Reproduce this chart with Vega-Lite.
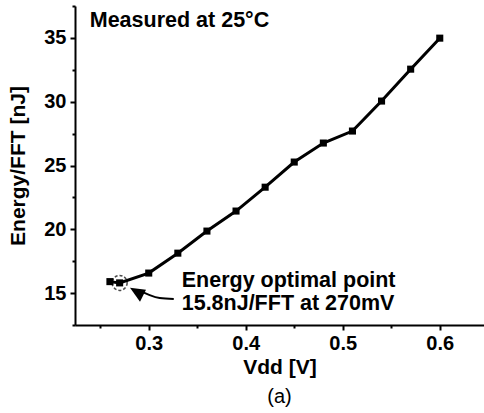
{
  "$schema": "https://vega.github.io/schema/vega-lite/v6.json",
  "autosize": {"type": "none"},
  "width": 409,
  "height": 319,
  "padding": {"left": 75, "top": 6, "right": 0, "bottom": 88},
  "background": "white",
  "config": {
    "view": {"stroke": null},
    "font": "Liberation Sans",
    "axis": {
      "grid": false,
      "domainColor": "black",
      "domainWidth": 2,
      "tickColor": "black",
      "tickWidth": 2,
      "labelColor": "black",
      "labelFont": "Liberation Sans",
      "labelFontWeight": "bold",
      "labelFontSize": 20,
      "titleColor": "black",
      "titleFont": "Liberation Sans",
      "titleFontWeight": "bold",
      "titleFontSize": 21,
      "labelFlush": false,
      "labelOverlap": false
    }
  },
  "title": {
    "text": "(a)",
    "orient": "bottom",
    "anchor": "middle",
    "font": "Liberation Sans",
    "fontWeight": "normal",
    "fontSize": 20,
    "color": "black",
    "offset": 10
  },
  "resolve": {"axis": {"y": "independent"}},
  "layer": [
    {
      "data": {"values": [{"e": 20}]},
      "mark": {"type": "rule", "opacity": 0},
      "encoding": {
        "y": {"field": "e", "type": "quantitative",
          "scale": {"domain": [12.5, 37.5], "zero": false, "nice": false},
          "axis": {
            "orient": "left",
            "title": null,
            "values": [12.5, 17.5, 22.5, 27.5, 32.5, 37.5],
            "labels": false,
            "domain": false,
            "tickSize": 3
          }}
      }
    },
    {
      "data": {"values": [
        {"vdd": 0.26, "energy": 15.9},
        {"vdd": 0.27, "energy": 15.8},
        {"vdd": 0.30, "energy": 16.57},
        {"vdd": 0.33, "energy": 18.13},
        {"vdd": 0.36, "energy": 19.86},
        {"vdd": 0.39, "energy": 21.43},
        {"vdd": 0.42, "energy": 23.3},
        {"vdd": 0.45, "energy": 25.27},
        {"vdd": 0.48, "energy": 26.76},
        {"vdd": 0.51, "energy": 27.7},
        {"vdd": 0.54, "energy": 30.05},
        {"vdd": 0.57, "energy": 32.55},
        {"vdd": 0.60, "energy": 34.98}
      ]},
      "mark": {"type": "line", "color": "black", "strokeWidth": 3,
        "point": {"shape": "square", "filled": true, "size": 50, "color": "black"}},
      "encoding": {
        "x": {"field": "vdd", "type": "quantitative",
          "scale": {"domain": [0.224, 0.6456], "zero": false, "nice": false},
          "axis": {
            "title": "Vdd [V]",
            "values": [0.25, 0.3, 0.35, 0.4, 0.45, 0.5, 0.55, 0.6],
            "labelExpr": "abs(datum.value*10 - round(datum.value*10)) < 0.01 ? format(datum.value, '.1f') : ''",
            "tickSize": {"condition": {"test": "abs(datum.value*10 - round(datum.value*10)) < 0.01", "value": 5}, "value": 3},
            "labelPadding": 3,
            "titlePadding": 3
          }},
        "y": {"field": "energy", "type": "quantitative",
          "scale": {"domain": [12.5, 37.5], "zero": false, "nice": false},
          "axis": {
            "orient": "left",
            "title": "Energy/FFT [nJ]",
            "values": [15, 20, 25, 30, 35],
            "tickSize": 5,
            "labelPadding": 4,
            "titlePadding": 15
          }}
      }
    },
    {
      "data": {"values": [{"vdd": 0.27, "energy": 15.8}]},
      "mark": {"type": "point", "shape": "circle", "filled": false, "size": 225, "color": "black", "strokeWidth": 1.5, "strokeDash": [3, 2]},
      "encoding": {
        "x": {"field": "vdd", "type": "quantitative"},
        "y": {"field": "energy", "type": "quantitative", "axis": null}
      }
    },
    {
      "data": {"values": [
        {"vdd": 0.3258, "energy": 14.53, "o": 1},
        {"vdd": 0.3113, "energy": 14.61, "o": 2},
        {"vdd": 0.301, "energy": 14.84, "o": 3},
        {"vdd": 0.2938, "energy": 15.08, "o": 4}
      ]},
      "mark": {"type": "line", "color": "black", "strokeWidth": 2, "interpolate": "monotone"},
      "encoding": {
        "x": {"field": "vdd", "type": "quantitative"},
        "y": {"field": "energy", "type": "quantitative", "axis": null},
        "order": {"field": "o"}
      }
    },
    {
      "data": {"values": [{"vdd": 0.2897, "energy": 15.0}]},
      "mark": {"type": "point", "shape": "M-0.97,-0.59L0.81,-0.37L0.14,0.97Z", "filled": true, "size": 324, "color": "black", "opacity": 1},
      "encoding": {
        "x": {"field": "vdd", "type": "quantitative"},
        "y": {"field": "energy", "type": "quantitative", "axis": null}
      }
    },
    {
      "data": {"values": [
        {"vdd": 0.334, "energy": 15.47, "label": "Energy optimal point"},
        {"vdd": 0.334, "energy": 13.67, "label": "15.8nJ/FFT at 270mV"},
        {"vdd": 0.2392, "energy": 35.85, "label": "Measured at 25°C"}
      ]},
      "mark": {"type": "text", "align": "left", "baseline": "alphabetic", "font": "Liberation Sans", "fontWeight": "bold", "fontSize": 21.5, "color": "black"},
      "encoding": {
        "x": {"field": "vdd", "type": "quantitative"},
        "y": {"field": "energy", "type": "quantitative", "axis": null},
        "text": {"field": "label"}
      }
    }
  ]
}
